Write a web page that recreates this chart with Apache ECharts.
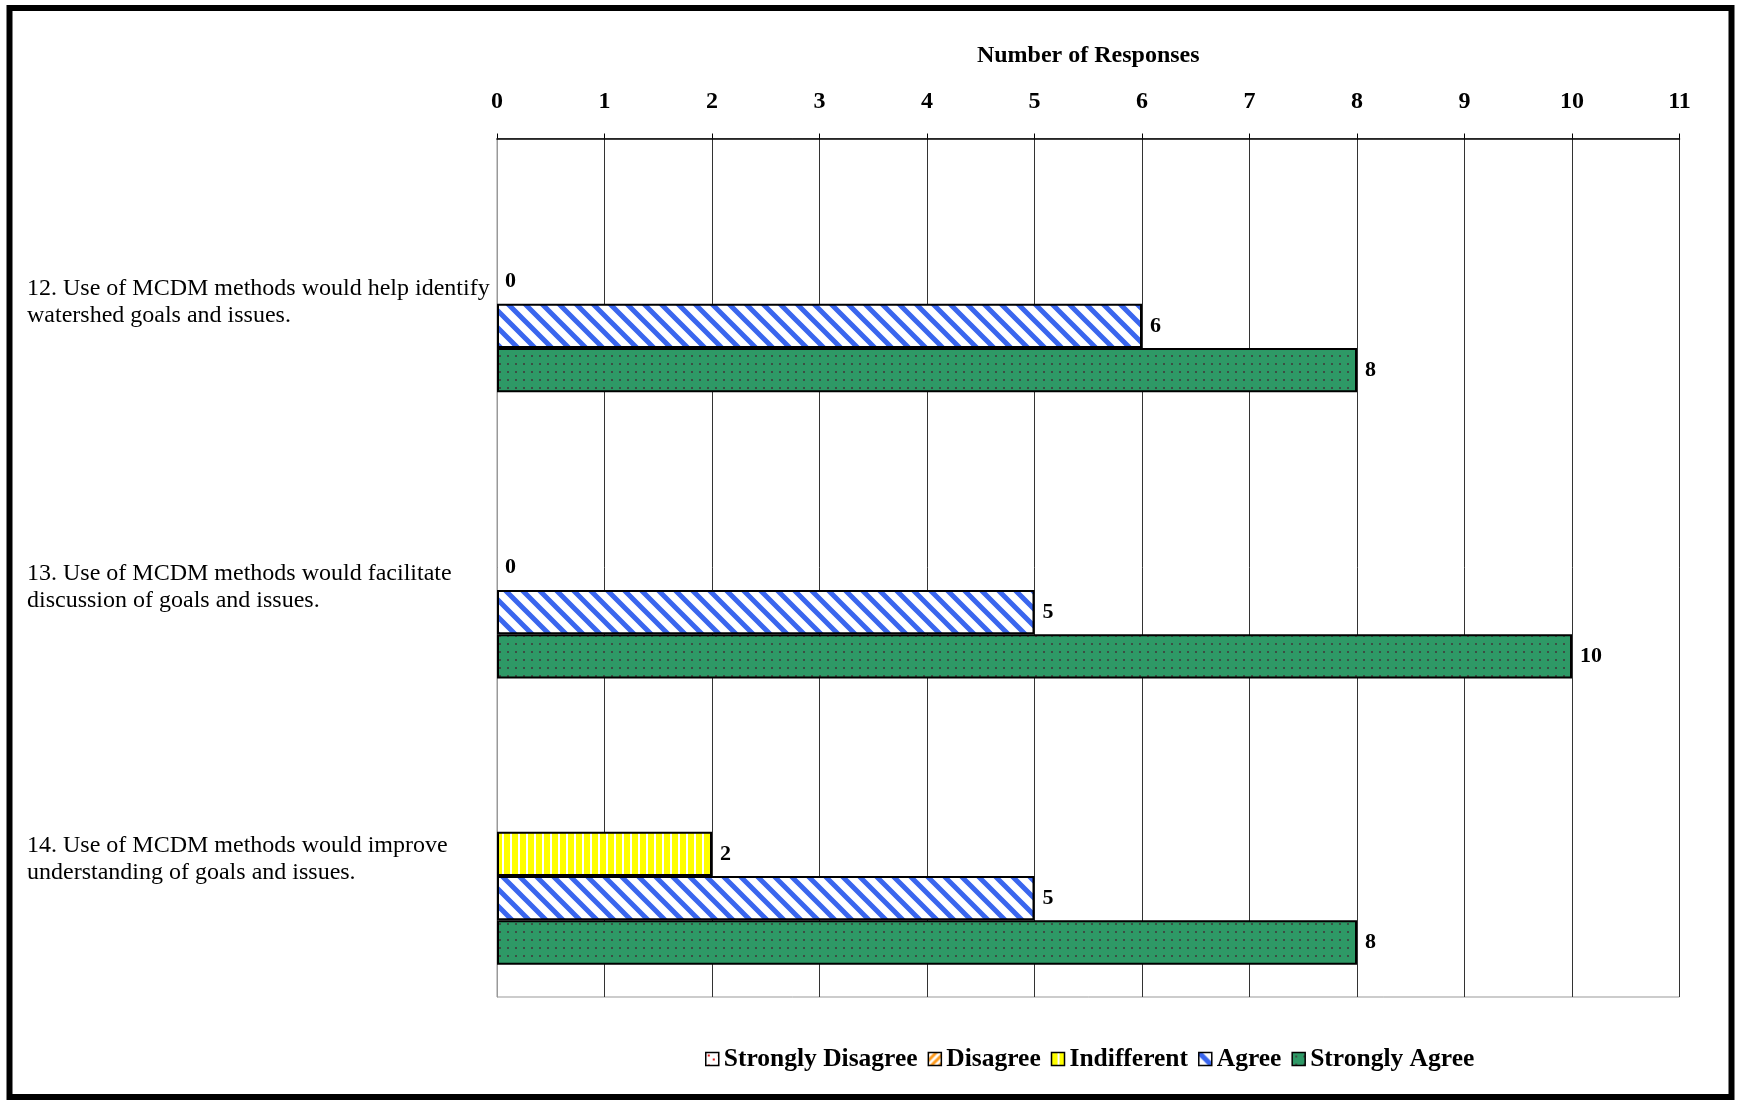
<!DOCTYPE html>
<html>
<head>
<meta charset="utf-8">
<script src="https://cdn.jsdelivr.net/npm/echarts@6/dist/echarts.min.js"></script>
<style>
  html, body { margin: 0; padding: 0; background: #fff; }
  #chart { width: 1737px; height: 1100px; }
</style>
</head>
<body>
<div id="chart"></div>
<script>
// ---- data ----
const categories = [
  '12. Use of MCDM methods would help identify\nwatershed goals and issues.',
  '13. Use of MCDM methods would facilitate\ndiscussion of goals and issues.',
  '14. Use of MCDM methods would improve\nunderstanding of goals and issues.'
];
const seriesNames = ['Strongly Disagree', 'Disagree', 'Indifferent', 'Agree', 'Strongly Agree'];
const stronglyDisagree = [null, null, null];
const disagree = [null, null, null];
const indifferent = [0, 0, 2];
const agree = [6, 5, 5];
const stronglyAgree = [8, 10, 8];
const xTicks = [0, 1, 2, 3, 4, 5, 6, 7, 8, 9, 10, 11];
const axisTitle = 'Number of Responses';

// ---- patterns ----
function tile(w, h, draw) {
  const c = document.createElement('canvas');
  c.width = w; c.height = h;
  draw(c.getContext('2d'));
  return { image: c, repeat: 'repeat' };
}
const pSD = tile(10, 10, g => {
  g.fillStyle = '#fff'; g.fillRect(0, 0, 10, 10);
  g.fillStyle = '#e02020'; g.fillRect(2, 2, 2, 2); g.fillRect(7, 6, 2, 2);
});
const pD = tile(8, 8, g => {
  g.fillStyle = '#fff'; g.fillRect(0, 0, 8, 8);
  g.strokeStyle = '#ff9a1a'; g.lineWidth = 3;
  g.beginPath();
  g.moveTo(-2, 10); g.lineTo(10, -2);
  g.moveTo(-6, 6); g.lineTo(6, -6);
  g.moveTo(2, 14); g.lineTo(14, 2);
  g.stroke();
});
const pI = tile(8, 8, g => {
  g.fillStyle = '#ffff00'; g.fillRect(0, 0, 8, 8);
  g.fillStyle = '#fff'; g.fillRect(6, 0, 2, 8);
});
const P = 17;
const pA = tile(P, P, g => {
  g.fillStyle = '#fff'; g.fillRect(0, 0, P, P);
  g.strokeStyle = '#3a66ee'; g.lineWidth = 5;
  g.beginPath();
  g.moveTo(-4, -4); g.lineTo(P + 4, P + 4);
  g.moveTo(-P - 4, -4); g.lineTo(4, P + 4);
  g.moveTo(P - 4, -4); g.lineTo(2 * P + 4, P + 4);
  g.stroke();
});
const pSA = tile(8, 8, g => {
  g.fillStyle = '#2e9966'; g.fillRect(0, 0, 8, 8);
  g.fillStyle = '#3c4f44'; g.fillRect(3, 3, 2, 2);
});
const patterns = [pSD, pD, pI, pA, pSA];
const values = [stronglyDisagree, disagree, indifferent, agree, stronglyAgree];

const serif = '"Liberation Serif", "Times New Roman", serif';
const labelShift = [21, 19, 5];
const rich = { t: { fontFamily: serif, fontSize: 24, color: '#000', lineHeight: 27, align: 'left' } };
labelShift.forEach((s, i) => { rich['sp' + i] = { fontSize: 1, height: 2 * s, lineHeight: 2 * s }; });

const chart = echarts.init(document.getElementById('chart'), null, { renderer: 'canvas' });
chart.setOption({
  backgroundColor: '#fff',
  animation: false,
  graphic: [{
    type: 'rect',
    shape: { x: 9.5, y: 8, width: 1722, height: 1089 },
    style: { fill: null, stroke: '#000', lineWidth: 6 },
    silent: true
  }],
  legend: {
    data: seriesNames,
    left: 700, top: 1041,
    icon: 'rect',
    itemWidth: 13, itemHeight: 13, itemGap: 10,
    itemStyle: { borderColor: '#000', borderWidth: 1.5 },
    textStyle: { fontFamily: serif, fontWeight: 'bold', fontSize: 25.5, color: '#000' }
  },
  grid: {
    left: 497, right: 57.5, top: 138.5, bottom: 103,
    show: true, borderColor: '#999', borderWidth: 1,
    containLabel: false,
    outerBoundsMode: 'none'
  },
  xAxis: {
    type: 'value', position: 'top',
    min: 0, max: 11, interval: 1,
    name: axisTitle, nameLocation: 'middle', nameGap: 71,
    nameTextStyle: { fontFamily: serif, fontWeight: 'bold', fontSize: 24, color: '#000' },
    axisLine: { show: true, lineStyle: { color: '#000', width: 1.5 } },
    axisTick: { show: true, length: 5, lineStyle: { color: '#000' } },
    axisLabel: {
      margin: 25, fontFamily: serif, fontWeight: 'bold', fontSize: 24, color: '#000',
      formatter: v => String(xTicks[v] !== undefined ? xTicks[v] : v)
    },
    splitLine: { show: true, lineStyle: { color: '#333', width: 1 } }
  },
  yAxis: {
    type: 'category', inverse: true,
    data: categories,
    axisLine: { show: true, lineStyle: { color: '#999', width: 1 } },
    axisTick: { show: false },
    axisLabel: {
      align: 'left', margin: 470,
      fontFamily: serif, fontSize: 24, color: '#000', lineHeight: 27,
      formatter: (v, i) => '{sp' + i + '| }\n' + v.split('\n').map(l => '{t|' + l + '}').join('\n'),
      rich
    }
  },
  series: seriesNames.map((name, i) => ({
    name, type: 'bar',
    data: values[i].map(v => (v === 0 ? { value: v, itemStyle: { borderWidth: 0 } } : v)),
    barGap: '0%', barCategoryGap: '22.6%',
    itemStyle: { color: patterns[i], borderColor: '#000', borderWidth: 2 },
    label: {
      show: true, position: 'right', distance: 8,
      fontFamily: serif, fontWeight: 'bold', fontSize: 22, color: '#000'
    }
  }))
});
</script>
</body>
</html>
